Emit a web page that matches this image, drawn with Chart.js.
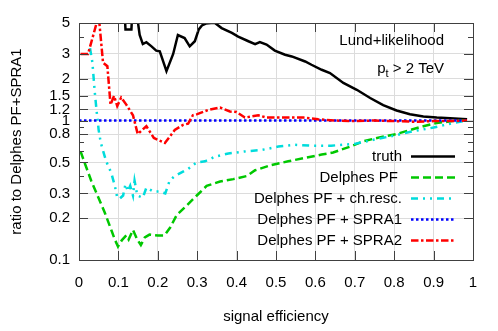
<!DOCTYPE html>
<html>
<head>
<meta charset="utf-8">
<script src="https://cdn.jsdelivr.net/npm/chart.js@4.4.1/dist/chart.umd.min.js"></script>
<style>
  html, body { margin: 0; padding: 0; background: #fff; }
  #wrap { width: 498px; height: 331px; }
</style>
</head>
<body>
<div id="wrap"><canvas id="ratioChart" width="498" height="331"></canvas></div>
<script>
(function () {
  var FONT = '"Liberation Sans", Arial, Helvetica, sans-serif';

  // axis ticks
  var xTicks = [0, 0.1, 0.2, 0.3, 0.4, 0.5, 0.6, 0.7, 0.8, 0.9, 1];
  var yTicks = [0.1, 0.2, 0.3, 0.4, 0.5, 0.6, 0.7, 0.8, 0.9, 1, 1.2, 1.5, 2, 3, 4, 5];
  var yLabels = ["0.1", "0.2", "0.3", "", "0.5", "", "", "0.8", "", "1", "1.2", "1.5", "2", "3", "", "5"];

  // truth
  var truthX = [0.100, 0.115, 0.118, 0.133, 0.136, 0.146, 0.154, 0.162, 0.171, 0.184, 0.196, 0.205, 0.222, 0.239, 0.251, 0.268, 0.281, 0.294, 0.304, 0.312, 0.322, 0.335, 0.345, 0.362, 0.388, 0.404, 0.430, 0.447, 0.459, 0.476, 0.497, 0.523, 0.540, 0.574, 0.590, 0.616, 0.637, 0.671, 0.705, 0.739, 0.772, 0.806, 0.840, 0.874, 0.908, 0.942, 0.985];
  var truthY = [7.5, 6.5, 4.5, 4.5, 6.5, 6.0, 4.1, 3.53, 3.64, 3.40, 3.17, 3.13, 2.26, 3.0, 4.1, 3.9, 3.4, 3.7, 4.5, 4.8, 4.95, 5.0, 5.0, 4.6, 4.25, 4.0, 3.7, 3.53, 3.65, 3.5, 3.17, 2.96, 2.88, 2.65, 2.51, 2.31, 2.19, 1.86, 1.66, 1.45, 1.29, 1.18, 1.11, 1.07, 1.05, 1.04, 1.02];

  // Delphes PF
  var pfX = [0.004, 0.014, 0.031, 0.048, 0.065, 0.082, 0.091, 0.099, 0.109, 0.120, 0.126, 0.137, 0.148, 0.157, 0.167, 0.179, 0.200, 0.217, 0.231, 0.248, 0.273, 0.299, 0.324, 0.358, 0.392, 0.426, 0.447, 0.489, 0.531, 0.574, 0.616, 0.645, 0.688, 0.722, 0.765, 0.806, 0.840, 0.874, 0.908, 0.935, 0.959, 0.985];
  var pfY = [0.60, 0.50, 0.37, 0.285, 0.22, 0.164, 0.14, 0.125, 0.139, 0.15, 0.14, 0.164, 0.14, 0.128, 0.145, 0.152, 0.15, 0.15, 0.17, 0.21, 0.245, 0.29, 0.34, 0.365, 0.38, 0.40, 0.44, 0.48, 0.51, 0.54, 0.57, 0.59, 0.65, 0.71, 0.76, 0.80, 0.855, 0.91, 0.96, 0.98, 1.0, 1.0];

  // Delphes PF + ch.resc.
  var rescX = [0.028, 0.034, 0.040, 0.045, 0.050, 0.055, 0.060, 0.069, 0.082, 0.091, 0.097, 0.103, 0.112, 0.118, 0.124, 0.130, 0.137, 0.141, 0.148, 0.162, 0.171, 0.188, 0.205, 0.219, 0.230, 0.243, 0.264, 0.277, 0.298, 0.320, 0.345, 0.379, 0.421, 0.464, 0.506, 0.548, 0.590, 0.640, 0.700, 0.750, 0.800, 0.850, 0.900, 0.950, 0.985];
  var rescY = [3.3, 2.6, 1.6, 1.15, 0.85, 0.70, 0.62, 0.51, 0.42, 0.34, 0.28, 0.275, 0.29, 0.35, 0.31, 0.34, 0.29, 0.37, 0.29, 0.28, 0.33, 0.31, 0.31, 0.30, 0.37, 0.40, 0.43, 0.45, 0.50, 0.51, 0.55, 0.58, 0.60, 0.615, 0.65, 0.67, 0.66, 0.66, 0.68, 0.73, 0.78, 0.84, 0.89, 0.96, 1.0];

  // Delphes PF + SPRA1 (reference)
  var spra1X = [0, 0.985];
  var spra1Y = [1, 1];

  // Delphes PF + SPRA2
  var spra2X = [0.004, 0.023, 0.048, 0.052, 0.061, 0.072, 0.080, 0.089, 0.097, 0.107, 0.120, 0.137, 0.149, 0.171, 0.190, 0.218, 0.243, 0.264, 0.277, 0.289, 0.300, 0.328, 0.358, 0.383, 0.400, 0.421, 0.455, 0.476, 0.530, 0.570, 0.607, 0.650, 0.700, 0.750, 0.800, 0.850, 0.900, 0.950, 0.985];
  var spra2Y = [3.0, 3.0, 5.4, 4.9, 2.6, 2.45, 1.30, 1.5, 1.27, 1.46, 1.30, 1.09, 0.80, 0.91, 0.75, 0.69, 0.855, 0.93, 0.95, 1.09, 1.11, 1.19, 1.24, 1.16, 1.15, 1.05, 1.09, 1.05, 1.05, 1.05, 1.02, 1.0, 0.99, 1.0, 0.99, 0.98, 0.99, 0.99, 1.0];

  function pts(xs, ys) {
    return xs.map(function (x, i) { return { x: x, y: ys[i] }; });
  }

  function series(label, xs, ys, color, dash, order) {
    return {
      label: label,
      data: pts(xs, ys),
      borderColor: color,
      backgroundColor: color,
      borderWidth: 2.5,
      borderDash: dash,
      pointRadius: 0,
      tension: 0,
      fill: false,
      clip: 0,
      order: order
    };
  }

  var labelOf = {};
  yTicks.forEach(function (v, i) { labelOf[v] = yLabels[i]; });

  var gnuplotFrame = {
    id: "gnuplotFrame",
    afterDatasetsDraw: function (chart) {
      var ctx = chart.ctx, a = chart.chartArea;
      var xs = chart.scales.x, ys = chart.scales.y;
      ctx.save();
      ctx.strokeStyle = "#404040";
      ctx.lineWidth = 1;
      ctx.beginPath();
      xTicks.forEach(function (v) {
        var px = Math.round(xs.getPixelForValue(v)) + 0.5;
        ctx.moveTo(px, a.bottom); ctx.lineTo(px, a.bottom - 9);
        ctx.moveTo(px, a.top); ctx.lineTo(px, a.top + 9);
      });
      yTicks.forEach(function (v, i) {
        var py = Math.round(ys.getPixelForValue(v)) + 0.5;
        var len = yLabels[i] ? 9 : 5;
        ctx.moveTo(a.left, py); ctx.lineTo(a.left + len, py);
        ctx.moveTo(a.right, py); ctx.lineTo(a.right - len, py);
      });
      ctx.stroke();
      ctx.strokeRect(Math.round(a.left) + 0.5, Math.round(a.top) + 0.5,
        Math.round(a.right - a.left), Math.round(a.bottom - a.top));
      ctx.restore();
    },
    afterDraw: function (chart) {
      var ctx = chart.ctx;
      ctx.save();
      ctx.fillStyle = "#000";
      ctx.font = "15px " + FONT;
      ctx.textAlign = "right";
      ctx.textBaseline = "alphabetic";
      ctx.fillText("Lund+likelihood", 444, 45);

      // p_t > 2 TeV
      var rest = " > 2 TeV";
      ctx.textAlign = "left";
      var wRest = ctx.measureText(rest).width;
      var wp = ctx.measureText("p").width;
      ctx.font = "11px " + FONT;
      var wt = ctx.measureText("t").width;
      var x0 = 444 - wRest - wt - wp;
      ctx.font = "15px " + FONT;
      ctx.fillText("p", x0, 73);
      ctx.fillText(rest, x0 + wp + wt, 73);
      ctx.font = "11px " + FONT;
      ctx.fillText("t", x0 + wp, 77);

      // legend, text left of the line sample
      ctx.font = "15px " + FONT;
      ctx.textAlign = "right";
      ctx.textBaseline = "middle";
      chart.data.datasets.forEach(function (ds, i) {
        var y = 156 + i * 21;
        ctx.fillStyle = "#000";
        ctx.fillText(ds.legendText || ds.label, 402, y + 1);
        ctx.strokeStyle = ds.borderColor;
        ctx.lineWidth = ds.borderWidth;
        ctx.setLineDash(ds.borderDash || []);
        ctx.beginPath();
        ctx.moveTo(411, y + 0.5);
        ctx.lineTo(455, y + 0.5);
        ctx.stroke();
        ctx.setLineDash([]);
      });
      ctx.restore();
    }
  };

  var datasets = [
    series("truth", truthX, truthY, "#000000", [], 5),
    series("Delphes PF", pfX, pfY, "#00c800", [8, 4], 4),
    series("Delphes PF + ch.resc.", rescX, rescY, "#00dcdc", [7, 5, 2, 5, 2, 5], 3),
    series("Delphes PF + SPRA1", spra1X, spra1Y, "#0000ff", [2.5, 2.5], 2),
    series("Delphes PF + SPRA2", spra2X, spra2Y, "#ff0000", [7.5, 2.5, 2.5, 2.5], 1)
  ];
  datasets[1].legendText = "Delphes PF ";

  new Chart(document.getElementById("ratioChart").getContext("2d"), {
    type: "line",
    data: { datasets: datasets },
    plugins: [gnuplotFrame],
    options: {
      responsive: false,
      animation: false,
      devicePixelRatio: 1,
      layout: { padding: { left: 0, top: 23, right: 25, bottom: 0 } },
      scales: {
        x: {
          type: "linear",
          min: 0,
          max: 1,
          afterBuildTicks: function (s) {
            s.ticks = xTicks.map(function (v) { return { value: v }; });
          },
          afterFit: function (s) { s.height = 71; },
          border: { display: false },
          grid: {
            drawTicks: false,
            color: function (c) {
              var v = c.tick && c.tick.value;
              return v > 0 && v < 1 ? "#dcdcdc" : "rgba(0,0,0,0)";
            }
          },
          ticks: {
            color: "#000",
            font: { family: FONT, size: 15 },
            padding: 14,
            maxRotation: 0,
            autoSkip: false,
            callback: function (v) { return String(Math.round(v * 10) / 10); }
          },
          title: {
            display: true,
            text: "signal efficiency",
            color: "#000",
            font: { family: FONT, size: 15 },
            padding: { top: 0, bottom: 5 }
          }
        },
        y: {
          type: "logarithmic",
          min: 0.1,
          max: 5,
          afterBuildTicks: function (s) {
            s.ticks = yTicks.map(function (v) { return { value: v }; });
          },
          afterFit: function (s) { s.width = 79; },
          border: { display: false },
          grid: {
            drawTicks: false,
            color: function (c) {
              var v = c.tick && c.tick.value;
              return labelOf[v] && v > 0.1 && v < 5 ? "#dcdcdc" : "rgba(0,0,0,0)";
            }
          },
          ticks: {
            color: "#000",
            font: { family: FONT, size: 15 },
            padding: 9,
            autoSkip: false,
            callback: function (v) { return labelOf[v] || ""; }
          },
          title: {
            display: true,
            text: "ratio to Delphes PF+SPRA1",
            color: "#000",
            font: { family: FONT, size: 15 },
            padding: { top: 8, bottom: 0 }
          }
        }
      },
      plugins: {
        legend: { display: false },
        tooltip: { enabled: false }
      }
    }
  });
})();
</script>
</body>
</html>
